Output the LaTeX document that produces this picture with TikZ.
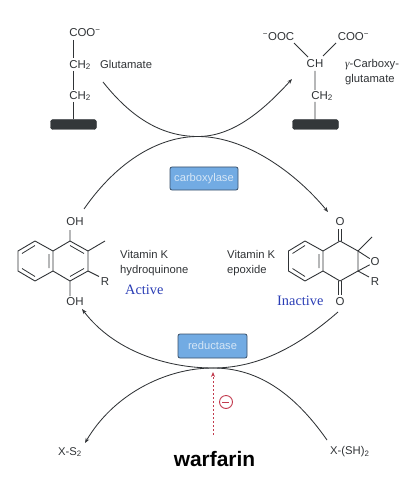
\documentclass[tikz,border=0pt]{standalone}
\usepackage{fontspec}
\setmainfont{Liberation Sans}
\newfontfamily\serifface{Liberation Serif}
\usetikzlibrary{arrows.meta}
\definecolor{ink}{HTML}{303336}
\definecolor{barc}{HTML}{33373A}
\definecolor{boxfill}{HTML}{72ABE3}
\definecolor{boxline}{HTML}{3A5068}
\definecolor{boxtext}{HTML}{D5E6F6}
\definecolor{labelblue}{HTML}{2A3DB5}
\definecolor{inhibit}{HTML}{C23B4E}
\tikzset{
  x=1bp,y=-1bp,
  lbl/.style={font=\fontsize{11.3}{15}\selectfont,text=ink,inner sep=0pt,anchor=west},
  atom/.style={font=\fontsize{11.5}{13}\selectfont,text=ink,inner sep=0.6pt},
  bond/.style={draw=ink,line width=0.9pt},
  thinb/.style={draw=ink,line width=0.8pt},
  flow/.style={draw=ink,line width=0.85pt},
  tip/.style={-{Stealth[length=5bp,width=3.8bp]}},
  bar/.style={fill=barc,draw=barc,rounded corners=2.5bp,minimum width=46bp,minimum height=10bp,inner sep=0pt},
  enzyme/.style={fill=boxfill,draw=boxline,line width=0.8pt,rounded corners=2bp,text=boxtext,font=\fontsize{11.2}{13}\selectfont,inner sep=0pt},
  state/.style={font=\serifface\fontsize{14.4}{16}\selectfont,text=labelblue,inner sep=0pt,anchor=west}
}
\begin{document}
\begin{tikzpicture}
\useasboundingbox (0,0) rectangle (412,480);
% Flow curves
\coordinate (topmid) at (198,136.5);
\coordinate (botmid) at (213,368);
\coordinate (glustart) at (103,82);
\coordinate (gluend) at (292,79);
\coordinate (cyclestart) at (84,209);
\coordinate (epoxarrow) at (328,212);
\coordinate (epoxstart) at (338,312);
\coordinate (hydarrow) at (82,309);
\coordinate (xshstart) at (327,440);
\coordinate (xsarrow) at (85,443);
\draw[flow] (glustart) .. controls (130,116) and (160,136.5) .. (topmid);
\draw[flow,tip] (topmid) .. controls (232,136.5) and (262,112) .. (gluend);
\draw[flow] (cyclestart) .. controls (118,160) and (160,136.5) .. (topmid);
\draw[flow,tip] (topmid) .. controls (245,136.5) and (295,172) .. (epoxarrow);
\draw[flow] (epoxstart) .. controls (300,345) and (260,368) .. (botmid);
\draw[flow,tip] (botmid) .. controls (165,368) and (113,350) .. (hydarrow);
\draw[flow] (xshstart) .. controls (292,390) and (255,368) .. (botmid);
\draw[flow,tip] (botmid) .. controls (165,368) and (113,395) .. (xsarrow);
% Glutamate
\node[atom,anchor=west] (coo) at (68.5,33) {COO\textsuperscript{−}};
\node[atom,anchor=west] (ch2a) at (68.5,65) {CH\textsubscript{2}};
\node[atom,anchor=west] (ch2b) at (68.5,96) {CH\textsubscript{2}};
\node[bar] (barl) at (73.5,124.5) {};
\coordinate (l0) at (73,40); \coordinate (l1) at (73,58);
\coordinate (l2) at (73,71); \coordinate (l3) at (73,90);
\coordinate (l4) at (73,102);
\draw[thinb] (l0)--(l1) (l2)--(l3) (l4)--(barl.north-|l4);
\node[lbl] (glu) at (100,64.5) {Glutamate};
% Carboxyglutamate
\node[atom,anchor=east] (ooc) at (295,37) {\textsuperscript{−}OOC};
\node[atom,anchor=west] (coor) at (337,37) {COO\textsuperscript{−}};
\node[atom] (ch) at (315,64) {CH};
\node[atom,anchor=west] (ch2c) at (310.5,96) {CH\textsubscript{2}};
\node[bar] (barr) at (315.5,124.5) {};
\coordinate (r1) at (294,43); \coordinate (r2) at (308,57);
\coordinate (r3) at (336,43); \coordinate (r4) at (323,56);
\coordinate (r5) at (315,71); \coordinate (r6) at (315,90); \coordinate (r7) at (315,102);
\draw[thinb] (r1)--(r2) (r3)--(r4) (r5)--(r6) (r7)--(barr.north-|r7);
\node[lbl,align=left] (gamma) at (345,72.5) {{\serifface\itshape γ}-Carboxy-\\glutamate};
% Hydroquinone
\coordinate (h1) at (35,241); \coordinate (h2) at (53,251); \coordinate (h3) at (53,271);
\coordinate (h4) at (35,281); \coordinate (h5) at (18,271); \coordinate (h6) at (18,251);
\coordinate (h7) at (70,241); \coordinate (h8) at (88,251); \coordinate (h9) at (88,271);
\coordinate (h10) at (70,281); \coordinate (h11) at (105,241); \coordinate (h12) at (99,276.5);
\coordinate (h13) at (70,230); \coordinate (h14) at (70,296);
\draw[bond,line join=round] (h1)--(h2)--(h3)--(h4)--(h5)--(h6)--cycle;
\draw[bond,line join=round] (h2)--(h7)--(h8)--(h9)--(h10)--(h3);
\draw[bond] (h7)--(h13) (h10)--(h14) (h8)--(h11) (h9)--(h12);
\coordinate (ha1) at (35,245.5); \coordinate (ha2) at (49,254);
\coordinate (ha3) at (49,268); \coordinate (ha4) at (35,276.5);
\coordinate (ha5) at (22,253.5); \coordinate (ha6) at (22,268.5);
\coordinate (ha7) at (70,245.5); \coordinate (ha8) at (84,253.5);
\coordinate (ha9) at (84,268.5); \coordinate (ha10) at (70,276.5);
\draw[thinb] (ha1)--(ha5) (ha4)--(ha6) (ha2)--(ha3) (ha7)--(ha8) (ha9)--(ha10);
\node[atom] (oh1) at (75,222) {OH};
\node[atom] (oh2) at (75,301.5) {OH};
\node[atom] (r) at (105,281.5) {R};
\node[lbl,align=left] (vkh) at (120,263.5) {Vitamin K\\hydroquinone};
\node[state] (active) at (125,289.5) {Active};
% Epoxide
\coordinate (e1) at (305,241); \coordinate (e2) at (323,251); \coordinate (e3) at (323,271);
\coordinate (e4) at (305,281); \coordinate (e5) at (288.5,271); \coordinate (e6) at (288.5,251);
\coordinate (e7) at (340,241); \coordinate (e8) at (358,251); \coordinate (e9) at (358,271);
\coordinate (e10) at (340,281); \coordinate (e11) at (372,237); \coordinate (e12) at (369,277);
\draw[bond,line join=round] (e1)--(e2)--(e3)--(e4)--(e5)--(e6)--cycle;
\draw[bond,line join=round] (e2)--(e7)--(e8)--(e9)--(e10)--(e3);
\draw[bond] (e8)--(e11) (e9)--(e12);
\coordinate (ea1) at (305,245.5); \coordinate (ea2) at (319,254);
\coordinate (ea3) at (319,268); \coordinate (ea4) at (305,276.5);
\coordinate (ea5) at (292.5,253.5); \coordinate (ea6) at (292.5,268.5);
\draw[thinb] (ea1)--(ea5) (ea4)--(ea6) (ea2)--(ea3);
\coordinate (eo1a) at (338.5,241); \coordinate (eo1b) at (338.5,229);
\coordinate (eo2a) at (341.5,241); \coordinate (eo2b) at (341.5,229);
\coordinate (eo3a) at (338.5,281); \coordinate (eo3b) at (338.5,295);
\coordinate (eo4a) at (341.5,281); \coordinate (eo4b) at (341.5,295);
\draw[bond] (eo1a)--(eo1b) (eo2a)--(eo2b) (eo3a)--(eo3b) (eo4a)--(eo4b);
\node[atom] (o1) at (340,222) {O};
\node[atom] (o2) at (340,301.5) {O};
\node[atom] (o3) at (375,262) {O};
\draw[bond] (e8)--(o3) (e9)--(o3);
\node[atom] (r2n) at (375,282) {R};
\node[lbl,align=left] (vke) at (227,263.5) {Vitamin K\\epoxide};
\node[state] (inactive) at (277,301) {Inactive};
% Enzymes
\node[enzyme,minimum width=68bp,minimum height=23bp] (carb) at (204,178.5) {carboxylase};
\node[enzyme,minimum width=69bp,minimum height=24bp] (red) at (212.5,346) {reductase};
% Bottom
\node[lbl] (xs) at (58,452) {X-S\textsubscript{2}};
\node[lbl] (xsh) at (330,452) {X-(SH)\textsubscript{2}};
\node[font=\bfseries\fontsize{21}{23}\selectfont,text=black,inner sep=0pt] (warf) at (214.5,459.5) {warfarin};
\coordinate (inhstart) at (213,435);
\coordinate (inhend) at (213,372);
\draw[draw=inhibit,line width=1pt,dash pattern=on 2.5bp off 1.5bp,-{Stealth[length=5bp,width=4bp]}] (inhstart)--(inhend);
\node[circle,draw=inhibit,line width=0.9pt,minimum size=13bp,inner sep=0pt] (minus) at (226,402) {};
\draw[draw=inhibit,line width=0.9pt] (minus.west)++(3,0) -- ++(7,0);
\end{tikzpicture}
\end{document}
